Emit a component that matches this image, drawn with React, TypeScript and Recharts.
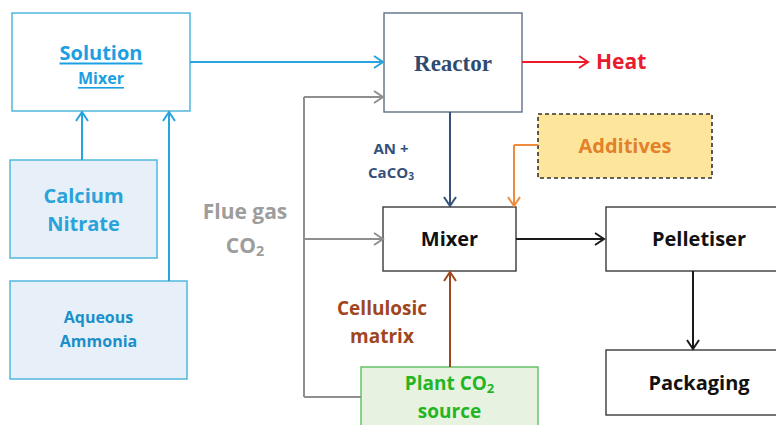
import React from 'react'
import { ScatterChart, Scatter, XAxis, YAxis, ReferenceArea, ReferenceLine } from 'recharts'

// diagram units = pixels of the 776x425 reference, y grows downward
const boxIds = ['solution', 'reactor', 'additives', 'calcium', 'ammonia', 'mixer', 'pelletiser', 'packaging', 'plant']
const boxLeft = [12, 384, 538, 10, 10, 383, 606, 606, 361]
const boxRight = [190, 522, 712, 157, 187, 516, 792, 792, 538]
const boxTop = [13, 13, 114, 160, 281, 207, 207, 350, 367]
const boxBottom = [111, 112, 178, 258, 379, 271, 271, 415, 445]
const boxLines = [
  ['Solution', 'Mixer'],
  ['Reactor'],
  ['Additives'],
  ['Calcium', 'Nitrate'],
  ['Aqueous', 'Ammonia'],
  ['Mixer'],
  ['Pelletiser'],
  ['Packaging'],
  ['Plant CO|2', 'source'],
]
const boxTextY = [65, 63, 145, 209, 329, 238, 238, 382, 397]

const edgePoints = [
  [[190, 62], [383, 62]],
  [[82, 160], [82, 112]],
  [[169, 281], [169, 112]],
  [[522, 62], [588, 62]],
  [[450, 112], [450, 206]],
  [[538, 145], [514, 145], [514, 206]],
  [[361, 397], [304, 397], [304, 97], [383, 97]],
  [[304, 239], [383, 239]],
  [[450, 367], [450, 272]],
  [[516, 239], [604, 239]],
  [[693, 271], [693, 349]],
]
const edgeKinds = ['blue', 'blue', 'blue', 'red', 'navy', 'orange', 'gray', 'gray', 'brown', 'black', 'black']

const labelText = ['Heat', 'Flue gas', 'CO|2', 'AN +', 'CaCO|3', 'Cellulosic', 'matrix']
const labelX = [596, 245, 245, 391, 391, 382, 382]
const labelY = [61, 211, 245, 148, 172, 308, 336]
const labelKinds = ['heat', 'flue', 'flue', 'an', 'an', 'cell', 'cell']

const FONT = '"Open Sans", Lato, sans-serif'

const edgeColor: Record<string, string> = {
  blue: '#27a3e0',
  red: '#ea1b2d',
  navy: '#35507a',
  orange: '#ee8a3c',
  gray: '#8f8f8f',
  brown: '#a0461e',
  black: '#1a1a1a',
}

type LineStyle = { size: number; color: string; family?: string; underline?: boolean }
const boxStyle: Record<string, { fill: string; stroke: string; dash?: string; gap: number; lines: LineStyle[] }> = {
  solution: {
    fill: '#ffffff', stroke: '#45b3dc', gap: 26,
    lines: [{ size: 20, color: '#1c9fe2', underline: true }, { size: 16, color: '#1c9fe2', underline: true }],
  },
  reactor: {
    fill: '#ffffff', stroke: '#5f6f86', gap: 0,
    lines: [{ size: 23, color: '#2f4a70', family: '"Liberation Serif", "DejaVu Serif", serif' }],
  },
  additives: {
    fill: '#fde59c', stroke: '#333333', dash: '4 3', gap: 0,
    lines: [{ size: 20, color: '#e3802a' }],
  },
  calcium: {
    fill: '#e7f0f8', stroke: '#45b3dc', gap: 28,
    lines: [{ size: 20, color: '#2aa2da' }, { size: 20, color: '#2aa2da' }],
  },
  ammonia: {
    fill: '#e7f0f8', stroke: '#45b3dc', gap: 24,
    lines: [{ size: 16, color: '#1b8fca' }, { size: 16, color: '#1b8fca' }],
  },
  mixer: { fill: '#ffffff', stroke: '#3a3a3a', gap: 0, lines: [{ size: 20, color: '#111111' }] },
  pelletiser: { fill: '#ffffff', stroke: '#3a3a3a', gap: 0, lines: [{ size: 20, color: '#111111' }] },
  packaging: { fill: '#ffffff', stroke: '#3a3a3a', gap: 0, lines: [{ size: 20, color: '#111111' }] },
  plant: {
    fill: '#e7f2e1', stroke: '#5cbf5c', gap: 28,
    lines: [{ size: 19, color: '#23b523' }, { size: 19, color: '#23b523' }],
  },
}

const labelStyle: Record<string, { size: number; color: string; anchor: 'start' | 'middle' }> = {
  heat: { size: 21, color: '#ea1b2d', anchor: 'start' },
  flue: { size: 21, color: '#9d9d9d', anchor: 'middle' },
  an: { size: 15, color: '#35507a', anchor: 'middle' },
  cell: { size: 19, color: '#a0461e', anchor: 'middle' },
}

// "CO|2" -> CO with subscript 2
const Rich = ({ text, size }: { text: string; size: number }) => {
  const [main, sub] = text.split('|')
  if (!sub) return <>{main}</>
  return (
    <>
      {main}
      <tspan fontSize={size * 0.68} dy={size * 0.25}>{sub}</tspan>
    </>
  )
}

const BoxShape = (props: any) => {
  const { x, y, width, height, id, lines, cy } = props
  const s = boxStyle[id]
  const n = lines.length
  return (
    <g>
      <rect x={x} y={y} width={width} height={height} fill={s.fill} stroke={s.stroke}
        strokeWidth={id === 'additives' ? 1.6 : 1.4} strokeDasharray={s.dash} />
      {lines.map((t: string, i: number) => {
        const ls = s.lines[i]
        const ty = cy + (i - (n - 1) / 2) * s.gap
        return (
          <text key={i} x={x + width / 2} y={ty} textAnchor="middle" dominantBaseline="central"
            fontFamily={ls.family || FONT} fontWeight="bold" fontSize={ls.size} fill={ls.color}
            textDecoration={ls.underline ? 'underline' : undefined}>
            <Rich text={t} size={ls.size} />
          </text>
        )
      })}
    </g>
  )
}

const Segment = (props: any) => {
  const { x1, y1, x2, y2, color, head } = props
  const dx = x2 - x1
  const dy = y2 - y1
  const len = Math.hypot(dx, dy) || 1
  const ux = dx / len
  const uy = dy / len
  const L = 9
  const W = 6
  const bx = x2 - ux * L
  const by = y2 - uy * L
  return (
    <g>
      <line x1={x1} y1={y1} x2={x2} y2={y2} stroke={color} strokeWidth={2} />
      {head && (
        <polyline
          points={`${bx - uy * W},${by + ux * W} ${x2},${y2} ${bx + uy * W},${by - ux * W}`}
          fill="none" stroke={color} strokeWidth={2} strokeLinejoin="miter" />
      )}
    </g>
  )
}

const labelData = labelText.map((t, i) => ({ x: labelX[i], y: labelY[i], text: t, kind: labelKinds[i] }))

const LabelShape = (props: any) => {
  const { cx, cy, payload } = props
  const s = labelStyle[payload.kind]
  return (
    <text x={cx} y={cy} textAnchor={s.anchor} dominantBaseline="central" fontFamily={FONT}
      fontWeight="bold" fontSize={s.size} fill={s.color}>
      <Rich text={payload.text} size={s.size} />
    </text>
  )
}

export default function App() {
  return (
    <div style={{ position: 'absolute', left: 0, top: 0, background: '#fff' }}>
      <ScatterChart width={776} height={425} margin={{ top: 0, right: 0, bottom: 0, left: 0 }}>
        <XAxis type="number" dataKey="x" domain={[0, 776]} hide allowDataOverflow />
        <YAxis type="number" dataKey="y" domain={[0, 425]} reversed hide allowDataOverflow />
        {edgePoints.map((pts, e) =>
          pts.slice(1).map((p, k) => (
            <ReferenceLine
              key={`e${e}-${k}`}
              segment={[{ x: pts[k][0], y: pts[k][1] }, { x: p[0], y: p[1] }]}
              ifOverflow="visible"
              shape={(sp: any) => (
                <Segment {...sp} color={edgeColor[edgeKinds[e]]} head={k === pts.length - 2} />
              )}
            />
          ))
        )}
        {boxIds.map((id, i) => (
          <ReferenceArea
            key={id}
            x1={boxLeft[i]}
            x2={boxRight[i]}
            y1={boxTop[i]}
            y2={boxBottom[i]}
            ifOverflow="visible"
            shape={(sp: any) => {
              const pxPerUnit = sp.height / (boxBottom[i] - boxTop[i])
              const cy = sp.y + (boxTextY[i] - boxTop[i]) * pxPerUnit
              return <BoxShape {...sp} id={id} lines={boxLines[i]} cy={cy} />
            }}
          />
        ))}
        <Scatter data={labelData} isAnimationActive={false} shape={<LabelShape />} />
      </ScatterChart>
    </div>
  )
}
